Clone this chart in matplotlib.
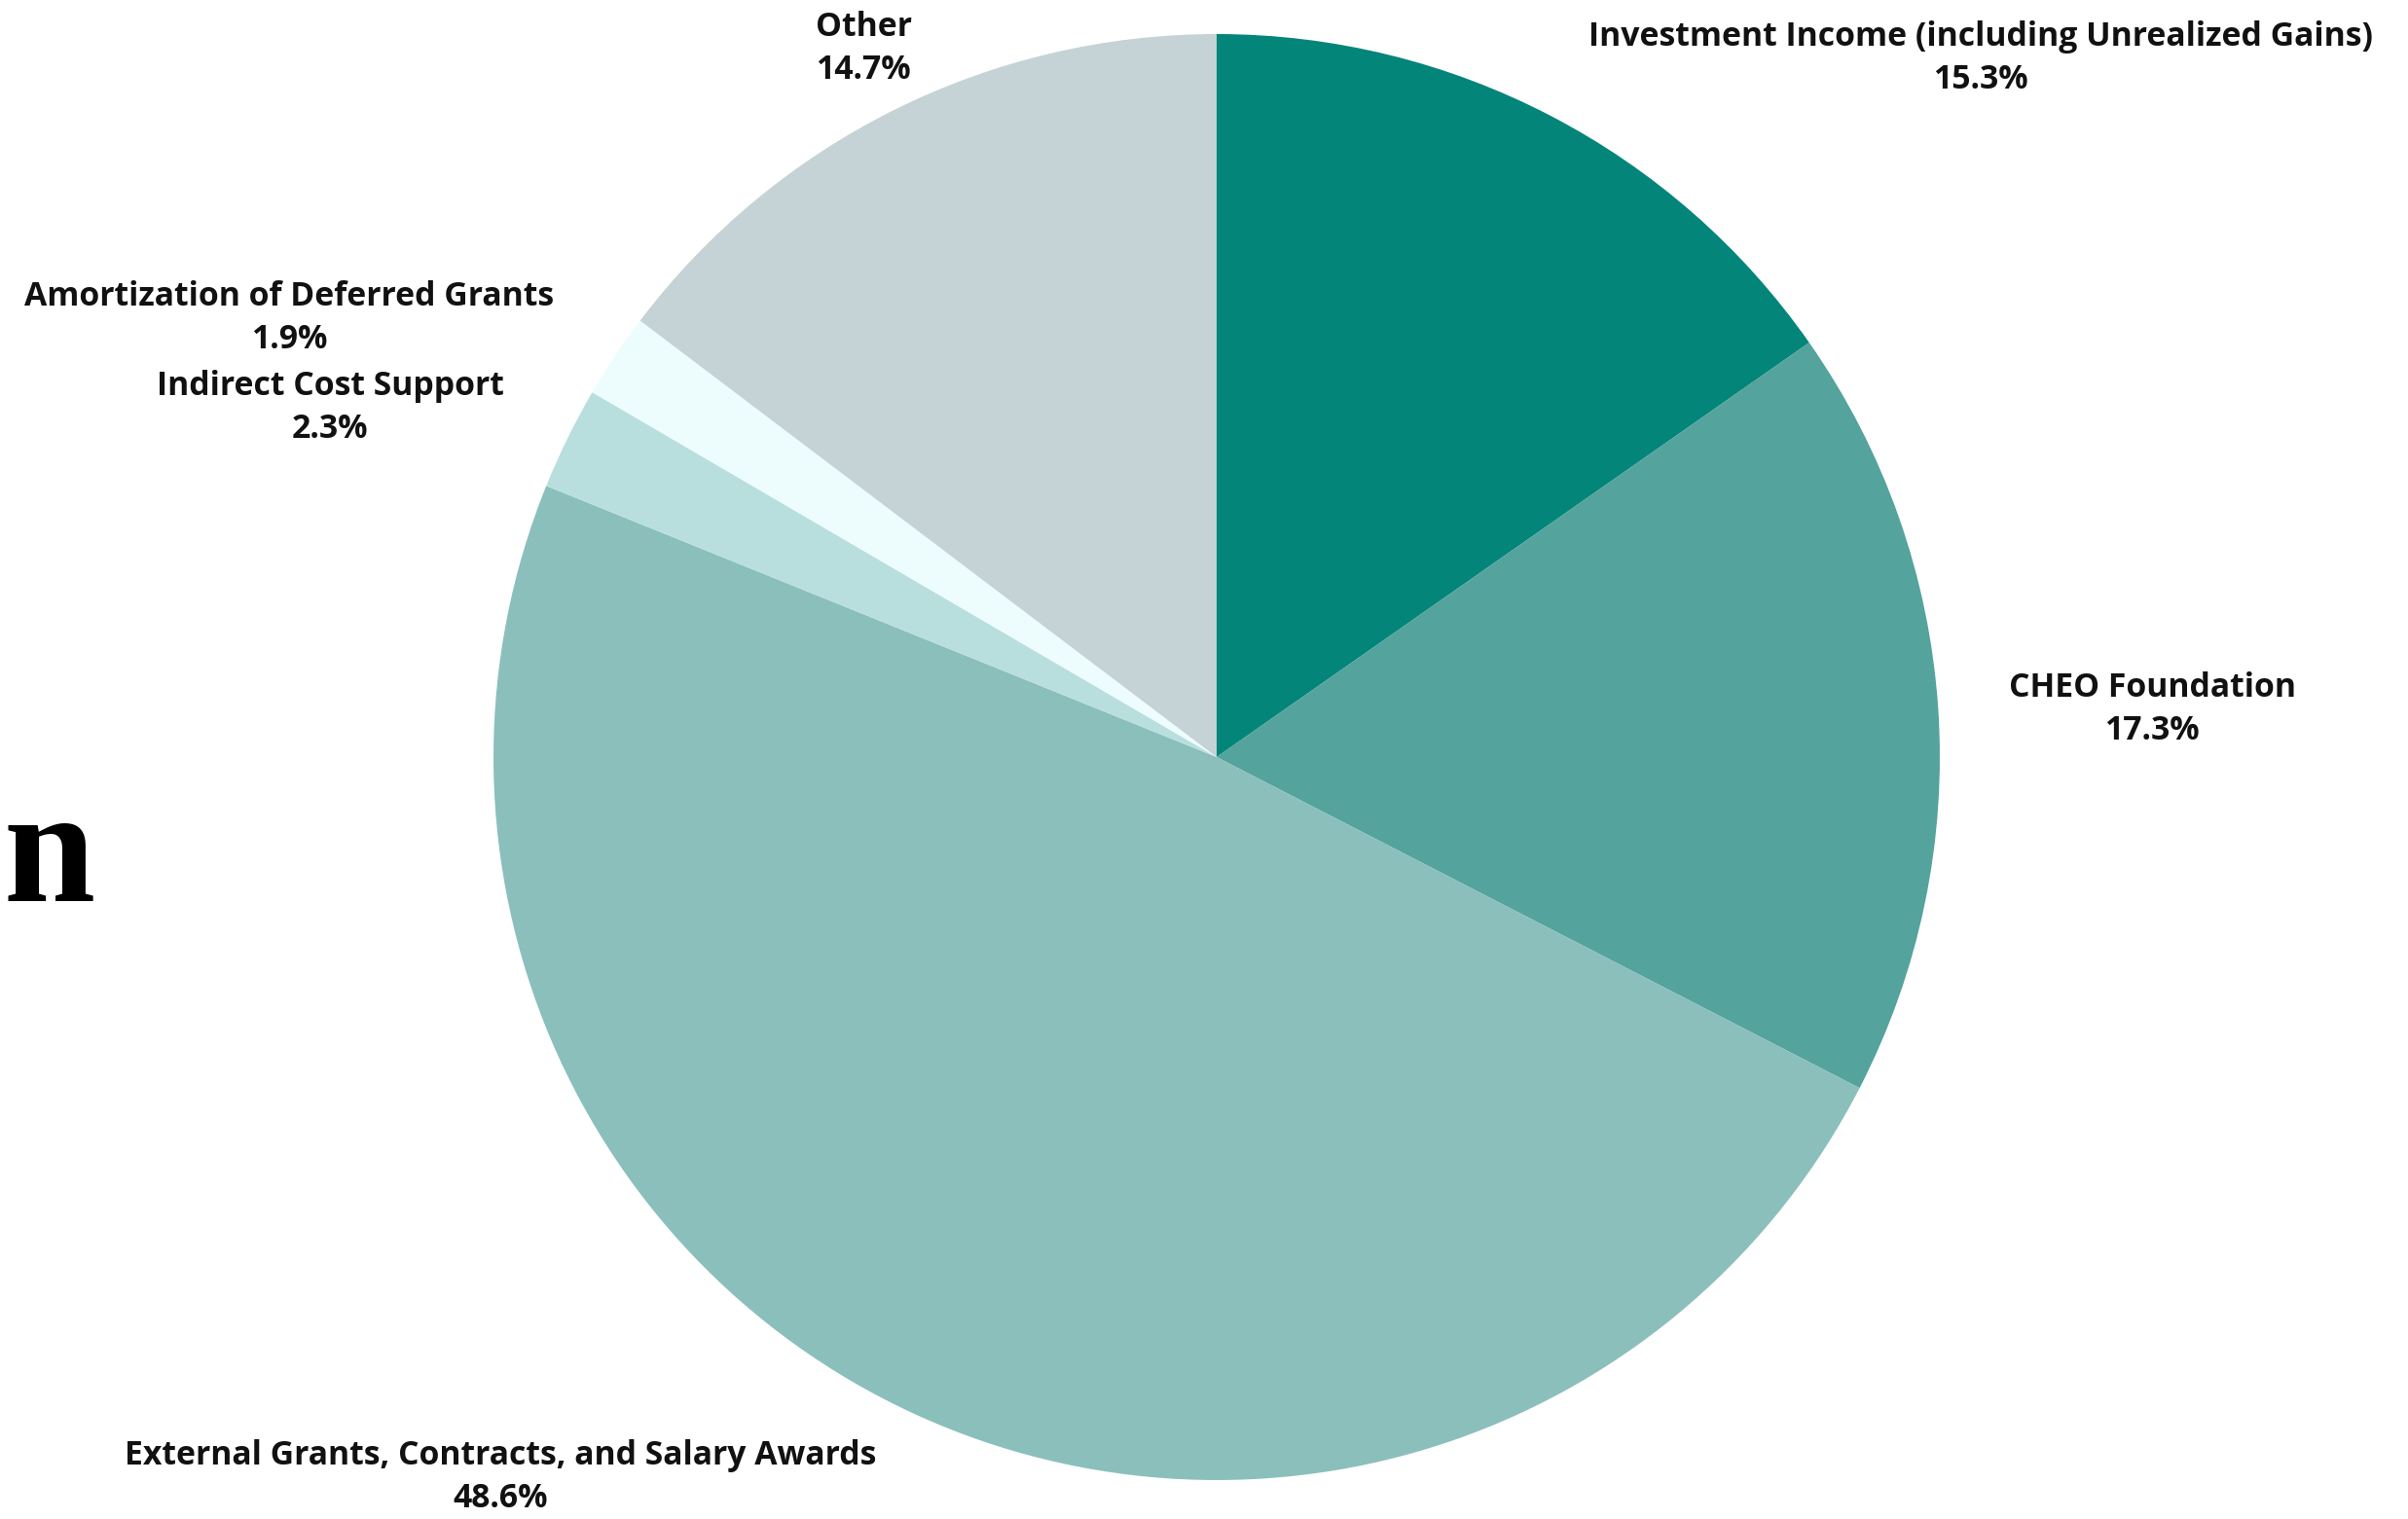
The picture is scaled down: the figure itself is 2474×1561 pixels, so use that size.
import matplotlib
matplotlib.use("Agg")
import matplotlib.pyplot as plt

categories = [
    "Investment Income (including Unrealized Gains)",
    "CHEO Foundation",
    "External Grants, Contracts, and Salary Awards",
    "Indirect Cost Support",
    "Amortization of Deferred Grants",
    "Other",
]
values = [15.3, 17.3, 48.6, 2.3, 1.9, 14.7]
colors = ["#03857A", "#54A39D", "#8ABFBC", "#B8DFDE", "#EDFDFE", "#C5D3D6"]

# label anchor positions (pixels from top-left), centre of two-line block
label_pos = [(2035, 60), (2211, 729), (514, 1518), (339, 419), (297, 327), (887, 50)]

W, H = 2474, 1561
fig = plt.figure(figsize=(W / 100, H / 100), dpi=100)
ax = fig.add_axes([0, 0, 1, 1])
cx, cy, r = 1250, 778, 743
ax.pie(values, colors=colors, startangle=90, counterclock=False,
       center=(cx, H - cy), radius=r,
       wedgeprops=dict(linewidth=0, antialiased=True))
ax.set_xlim(0, W)
ax.set_ylim(0, H)
ax.set_aspect("equal")
ax.axis("off")

for cat, val, (x, y) in zip(categories, values, label_pos):
    ax.text(x, H - y, f"{cat}\n{val:.1f}%", ha="center", va="center",
            fontsize=24.3, fontweight="bold", family=["Open Sans", "DejaVu Sans"],
            linespacing=1.38, color="#111111")

ax.text(3, H - 926, "n", ha="left", va="baseline", fontsize=122,
        fontweight="bold", family=["Liberation Serif", "DejaVu Serif"], color="black")

fig.savefig("out.png", dpi=100)
